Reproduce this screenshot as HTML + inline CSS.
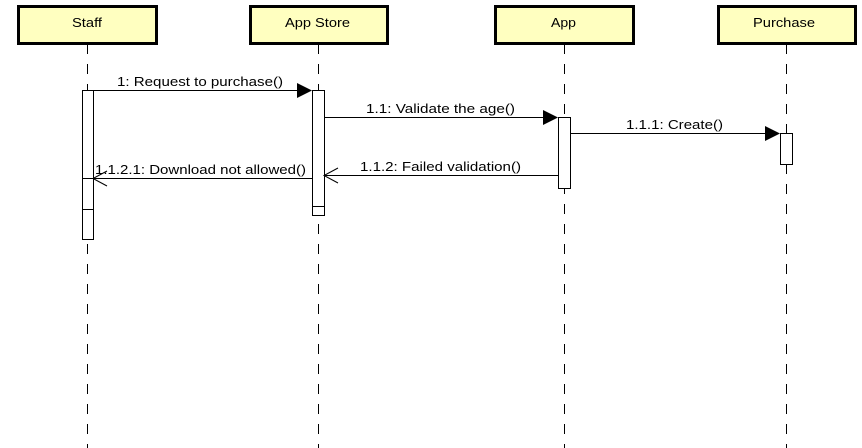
<!DOCTYPE html>
<html><head><style>body{margin:0;background:#fff}svg{display:block}text{font-family:"Liberation Sans",sans-serif;font-size:13px;fill:#000}</style></head>
<body>
<svg width="862" height="448" viewBox="0 0 862 448" xmlns="http://www.w3.org/2000/svg">
<g stroke="#000" stroke-width="1" stroke-dasharray="10,10">
<line x1="87.5" y1="44" x2="87.5" y2="448"/>
<line x1="318.5" y1="44" x2="318.5" y2="448"/>
<line x1="564.5" y1="44" x2="564.5" y2="448"/>
<line x1="786.5" y1="44" x2="786.5" y2="448"/>
</g>
<g fill="#ffffc0" stroke="#000" stroke-width="3">
<rect x="18.5" y="6.5" width="138" height="37"/>
<rect x="250.5" y="6.5" width="137" height="37"/>
<rect x="495.5" y="6.5" width="138" height="37"/>
<rect x="718.5" y="6.5" width="137" height="37"/>
</g>
<g>
<text x="72" y="27" textLength="30" lengthAdjust="spacingAndGlyphs">Staff</text>
<text x="285" y="27" textLength="65" lengthAdjust="spacingAndGlyphs">App Store</text>
<text x="551" y="27" textLength="25" lengthAdjust="spacingAndGlyphs">App</text>
<text x="753" y="27" textLength="62" lengthAdjust="spacingAndGlyphs">Purchase</text>
</g>
<g fill="#fff" stroke="#000" stroke-width="1">
<rect x="82.5" y="90.5" width="11" height="149"/>
<line x1="82.5" y1="178.5" x2="93.5" y2="178.5"/>
<line x1="82.5" y1="209.5" x2="93.5" y2="209.5"/>
<rect x="312.5" y="90.5" width="12" height="125"/>
<line x1="312.5" y1="206.5" x2="324.5" y2="206.5"/>
<rect x="558.5" y="117.5" width="12" height="71"/>
<rect x="780.5" y="133.5" width="12" height="31"/>
</g>
<g stroke="#000" stroke-width="1" fill="none">
<line x1="93" y1="90.5" x2="300" y2="90.5"/>
<line x1="324" y1="117.5" x2="546" y2="117.5"/>
<line x1="570" y1="133.5" x2="768" y2="133.5"/>
<line x1="324" y1="175.5" x2="558" y2="175.5"/>
<polyline points="338,168 324,175.5 338,183"/>
<line x1="93" y1="178.5" x2="312" y2="178.5"/>
<polyline points="107,171 93,178.5 107,186"/>
</g>
<g fill="#000">
<polygon points="297,83 312,90.5 297,98"/>
<polygon points="543,110 558,117.5 543,125"/>
<polygon points="765,126 780,133.5 765,141"/>
</g>
<g>
<text x="117" y="86" textLength="166" lengthAdjust="spacingAndGlyphs">1: Request to purchase()</text>
<text x="366" y="113" textLength="149" lengthAdjust="spacingAndGlyphs">1.1: Validate the age()</text>
<text x="626" y="129" textLength="97" lengthAdjust="spacingAndGlyphs">1.1.1: Create()</text>
<text x="360" y="171" textLength="161" lengthAdjust="spacingAndGlyphs">1.1.2: Failed validation()</text>
<text x="95" y="174" textLength="211" lengthAdjust="spacingAndGlyphs">1.1.2.1: Download not allowed()</text>
</g>
</svg>
</body></html>
